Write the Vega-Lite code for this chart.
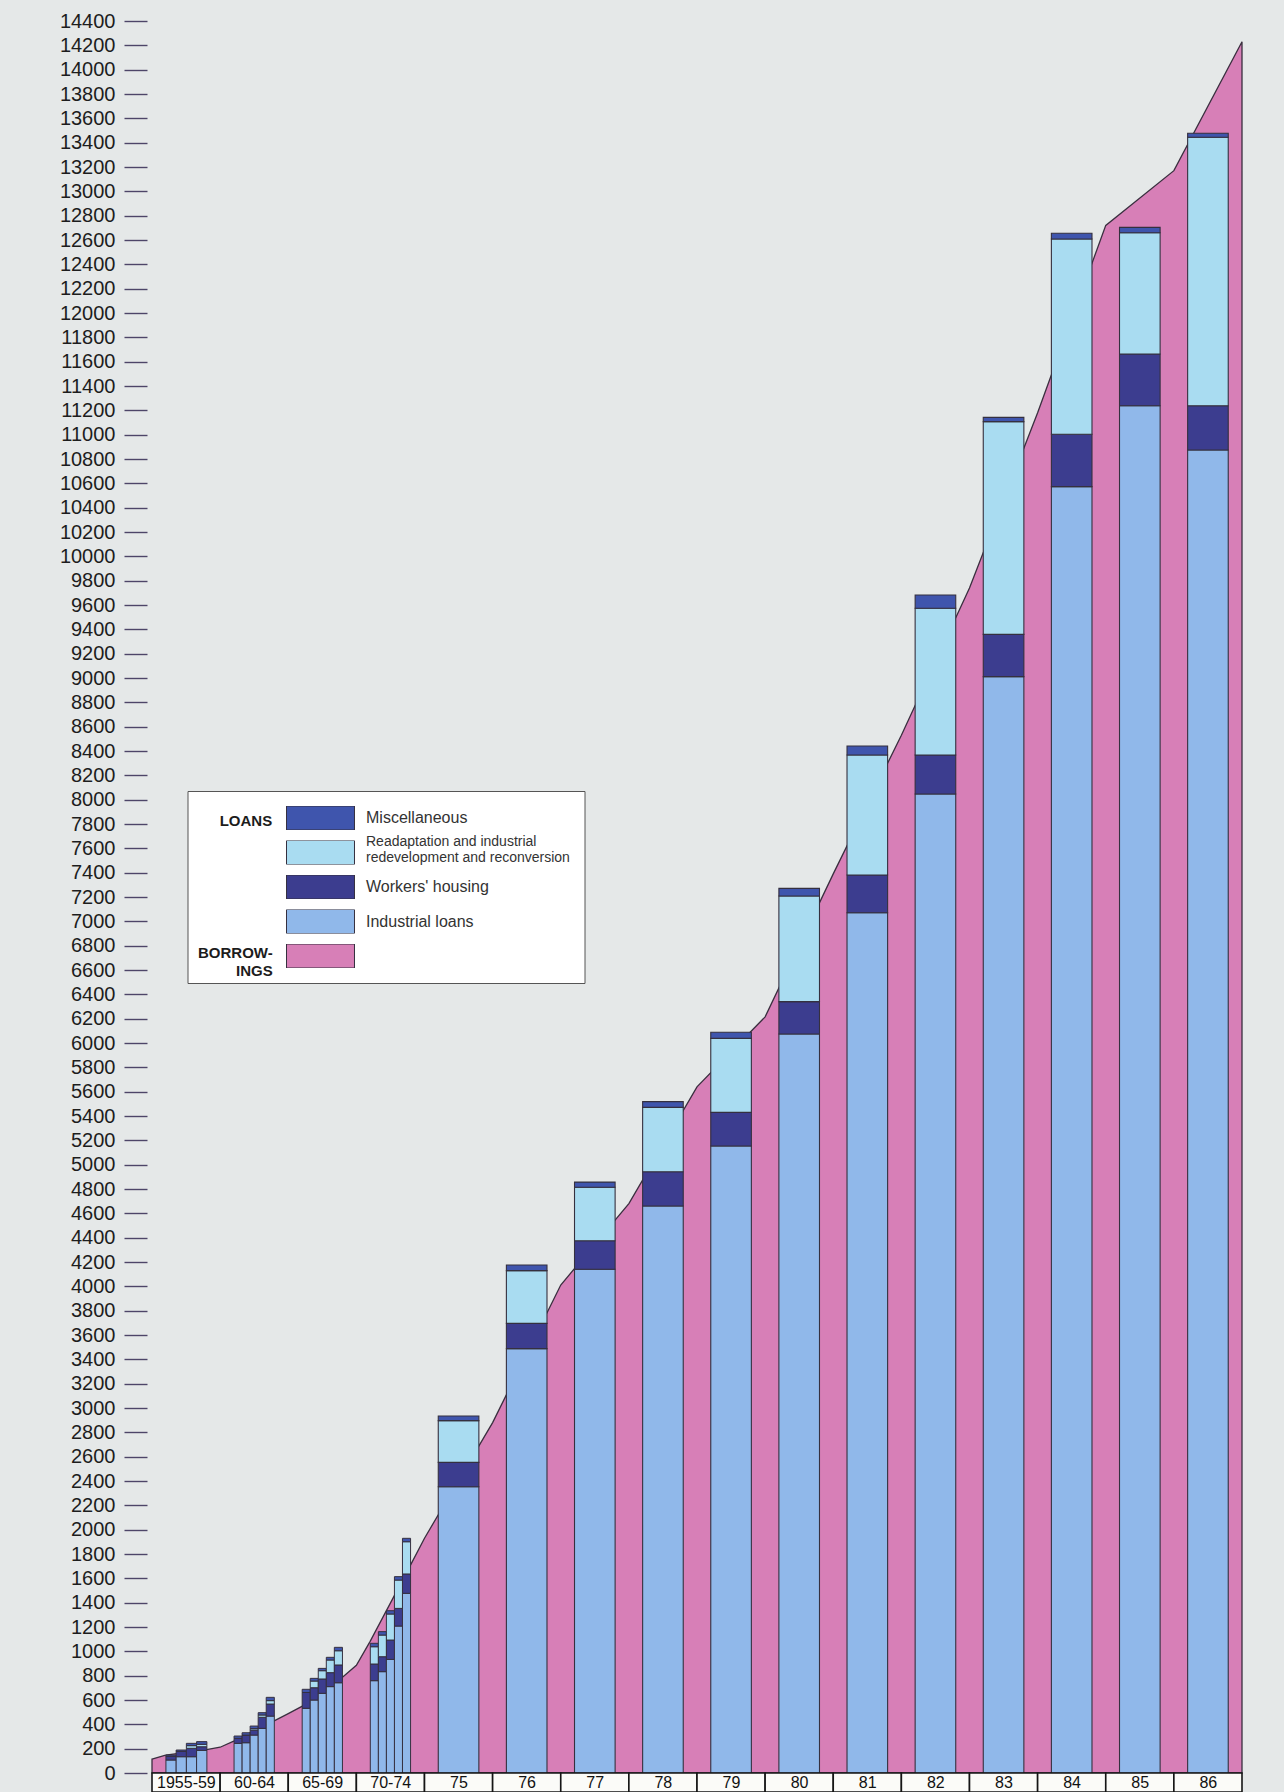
{
  "$schema": "https://vega.github.io/schema/vega-lite/v6.json",
  "width": 1100,
  "height": 1771,
  "autosize": {"type": "none"},
  "padding": {"left": 147, "top": 21, "right": 37, "bottom": 0},
  "background": "#e5e8e8",
  "config": {
    "view": {"stroke": null},
    "font": "Liberation Sans",
    "axisY": {
      "domain": false,
      "grid": false,
      "tickCount": 72,
      "format": "d",
      "tickSize": 23,
      "tickWidth": 1.4,
      "tickColor": "#4d4568",
      "labelPadding": 9,
      "labelFont": "Liberation Sans",
      "labelFontSize": 20,
      "labelColor": "#1d1d1d",
      "title": null
    }
  },
  "datasets": {
    "seriesInfo": [
      {"series": "industrial", "name": "Industrial loans", "rank": 1},
      {"series": "housing", "name": "Workers' housing", "rank": 2},
      {"series": "readapt", "name": "Readaptation and industrial redevelopment and reconversion", "rank": 3},
      {"series": "misc", "name": "Miscellaneous", "rank": 4}
    ],
    "loans": [
      {"year": "1956", "t": 0.28, "industrial": 107, "housing": 31, "readapt": 0, "misc": 10},
      {"year": "1957", "t": 0.43, "industrial": 134, "housing": 45, "readapt": 0, "misc": 10},
      {"year": "1958", "t": 0.58, "industrial": 134, "housing": 69, "readapt": 22, "misc": 19},
      {"year": "1959", "t": 0.73, "industrial": 186, "housing": 30, "readapt": 20, "misc": 22},
      {"year": "1960", "t": 1.264, "industrial": 244, "housing": 41, "readapt": 0, "misc": 19},
      {"year": "1961", "t": 1.382, "industrial": 249, "housing": 63, "readapt": 0, "misc": 19},
      {"year": "1962", "t": 1.5, "industrial": 312, "housing": 41, "readapt": 12, "misc": 21},
      {"year": "1963", "t": 1.618, "industrial": 367, "housing": 91, "readapt": 19, "misc": 19},
      {"year": "1964", "t": 1.736, "industrial": 468, "housing": 99, "readapt": 28, "misc": 27},
      {"year": "1965", "t": 2.264, "industrial": 532, "housing": 130, "readapt": 0, "misc": 26},
      {"year": "1966", "t": 2.382, "industrial": 600, "housing": 101, "readapt": 55, "misc": 22},
      {"year": "1967", "t": 2.5, "industrial": 655, "housing": 118, "readapt": 68, "misc": 19},
      {"year": "1968", "t": 2.618, "industrial": 710, "housing": 115, "readapt": 104, "misc": 22},
      {"year": "1969", "t": 2.736, "industrial": 742, "housing": 146, "readapt": 117, "misc": 28},
      {"year": "1970", "t": 3.264, "industrial": 759, "housing": 137, "readapt": 142, "misc": 28},
      {"year": "1971", "t": 3.382, "industrial": 833, "housing": 123, "readapt": 178, "misc": 28},
      {"year": "1972", "t": 3.5, "industrial": 934, "housing": 159, "readapt": 214, "misc": 27},
      {"year": "1973", "t": 3.618, "industrial": 1208, "housing": 145, "readapt": 233, "misc": 28},
      {"year": "1974", "t": 3.736, "industrial": 1477, "housing": 159, "readapt": 265, "misc": 28},
      {"year": "1975", "t": 4.5, "industrial": 2353, "housing": 200, "readapt": 343, "misc": 38},
      {"year": "1976", "t": 5.5, "industrial": 3488, "housing": 208, "readapt": 433, "misc": 46},
      {"year": "1977", "t": 6.5, "industrial": 4140, "housing": 235, "readapt": 439, "misc": 43},
      {"year": "1978", "t": 7.5, "industrial": 4660, "housing": 282, "readapt": 529, "misc": 47},
      {"year": "1979", "t": 8.5, "industrial": 5153, "housing": 277, "readapt": 608, "misc": 50},
      {"year": "1980", "t": 9.5, "industrial": 6074, "housing": 266, "readapt": 868, "misc": 63},
      {"year": "1981", "t": 10.5, "industrial": 7071, "housing": 310, "readapt": 986, "misc": 74},
      {"year": "1982", "t": 11.5, "industrial": 8047, "housing": 320, "readapt": 1206, "misc": 109},
      {"year": "1983", "t": 12.5, "industrial": 9011, "housing": 348, "readapt": 1748, "misc": 35},
      {"year": "1984", "t": 13.5, "industrial": 10573, "housing": 430, "readapt": 1605, "misc": 47},
      {"year": "1985", "t": 14.5, "industrial": 11238, "housing": 425, "readapt": 997, "misc": 44},
      {"year": "1986", "t": 15.5, "industrial": 10874, "housing": 364, "readapt": 2206, "misc": 33}
    ],
    "borrowings": [
      {"t": 0, "borrowings": 115},
      {"t": 0.2, "borrowings": 148},
      {"t": 0.8, "borrowings": 192},
      {"t": 1.0, "borrowings": 212},
      {"t": 1.2, "borrowings": 262},
      {"t": 1.8, "borrowings": 430},
      {"t": 2.0, "borrowings": 488},
      {"t": 2.2, "borrowings": 548},
      {"t": 2.8, "borrowings": 790},
      {"t": 3.0, "borrowings": 885},
      {"t": 3.2, "borrowings": 1080},
      {"t": 3.8, "borrowings": 1715},
      {"t": 4, "borrowings": 1930},
      {"t": 5, "borrowings": 2880},
      {"t": 6, "borrowings": 4011},
      {"t": 7, "borrowings": 4680},
      {"t": 8, "borrowings": 5640},
      {"t": 9, "borrowings": 6215},
      {"t": 10, "borrowings": 7390},
      {"t": 11, "borrowings": 8530},
      {"t": 12, "borrowings": 9740},
      {"t": 13, "borrowings": 11180},
      {"t": 14, "borrowings": 12720},
      {"t": 15, "borrowings": 13170},
      {"t": 16, "borrowings": 14230}
    ],
    "periods": [
      {"label": "1955-59", "from": 0, "to": 1},
      {"label": "60-64", "from": 1, "to": 2},
      {"label": "65-69", "from": 2, "to": 3},
      {"label": "70-74", "from": 3, "to": 4},
      {"label": "75", "from": 4, "to": 5},
      {"label": "76", "from": 5, "to": 6},
      {"label": "77", "from": 6, "to": 7},
      {"label": "78", "from": 7, "to": 8},
      {"label": "79", "from": 8, "to": 9},
      {"label": "80", "from": 9, "to": 10},
      {"label": "81", "from": 10, "to": 11},
      {"label": "82", "from": 11, "to": 12},
      {"label": "83", "from": 12, "to": 13},
      {"label": "84", "from": 13, "to": 14},
      {"label": "85", "from": 14, "to": 15},
      {"label": "86", "from": 15, "to": 16}
    ]
  },
  "layer": [
    {
      "data": {"name": "borrowings"},
      "mark": {"type": "area", "strokeWidth": 1.3, "strokeJoin": "miter", "opacity": 1},
      "encoding": {
        "x": {"field": "t", "type": "quantitative", "scale": {"domain": [0, 16], "nice": false, "zero": false}, "axis": null},
        "y": {"field": "borrowings", "type": "quantitative", "stack": null, "scale": {"domain": [-156, 14400], "nice": false, "zero": false}, "axis": {"title": null}},
        "fill": {
          "datum": "Borrowings",
          "type": "nominal",
          "scale": {
            "domain": ["Miscellaneous", "Readaptation and industrial redevelopment and reconversion", "Workers' housing", "Industrial loans", "Borrowings"],
            "range": ["#3f55ad", "#a9dcf1", "#3c3d8f", "#90b8ea", "#d77fb7"]
          },
          "legend": {
            "orient": "none",
            "legendX": 40.5,
            "legendY": 770,
            "zindex": 0,
            "title": "LOANS",
            "titleOrient": "right",
            "titleAnchor": "start",
            "titleAlign": "left",
            "titleBaseline": "top",
            "titleFont": "Liberation Sans",
            "titleFontWeight": "bold",
            "titleFontSize": 15,
            "titleOpacity": 0,
            "titlePadding": 28.5,
            "symbolType": "M-2.833,-1H2.833V1H-2.833Z",
            "symbolSize": 576,
            "symbolOffset": 105.5,
            "symbolStrokeColor": "#3a3a3a",
            "symbolStrokeWidth": 1,
            "symbolOpacity": 1,
            "labelFont": "Liberation Sans",
            "labelFontSize": 16,
            "labelColor": "#333333",
            "labelOffset": 33,
            "labelLimit": 320,
            "labelExpr": "datum.label == 'Borrowings' || indexof(datum.label, 'Readaptation') == 0 ? '' : datum.label",
            "clipHeight": 24,
            "rowPadding": 10.5,
            "fillColor": "#ffffff",
            "strokeColor": "#555555",
            "padding": 15
          }
        },
        "stroke": {
          "datum": "redevelopment and reconversion",
          "type": "nominal",
          "scale": {"range": ["#3a2f3f"]},
          "legend": {
            "orient": "none",
            "legendX": 73.2,
            "legendY": 792.8,
            "zindex": 1,
            "title": "LOANS",
            "titleOrient": "left",
            "titleAnchor": "start",
            "titleAlign": "right",
            "titleBaseline": "top",
            "titleFont": "Liberation Sans",
            "titleFontWeight": "bold",
            "titleFontSize": 15,
            "titleColor": "#1c1c1c",
            "titlePadding": -39.2,
            "symbolType": "M-1,-0.353H1V0.353H-1Z",
            "symbolSize": 4624,
            "symbolOpacity": 0,
            "symbolStrokeWidth": 0,
            "labelFont": "Liberation Sans",
            "labelFontSize": 14,
            "labelColor": "#333333",
            "labelOffset": 12,
            "labelLimit": 320,
            "labelExpr": "['Readaptation and industrial', 'redevelopment and reconversion']",
            "clipHeight": 55.8,
            "padding": 0
          }
        }
      }
    },
    {
      "data": {"name": "loans"},
      "transform": [
        {"filter": "datum.t >= 4"},
        {"fold": ["industrial", "housing", "readapt", "misc"], "as": ["series", "amount"]},
        {"lookup": "series", "from": {"data": {"name": "seriesInfo"}, "key": "series", "fields": ["name", "rank"]}}
      ],
      "mark": {"type": "bar", "width": 40.6, "stroke": "#35303f", "strokeWidth": 1.1},
      "encoding": {
        "x": {"field": "t", "type": "quantitative", "axis": null},
        "y": {"field": "amount", "type": "quantitative", "stack": "zero", "axis": {"title": null}},
        "order": {"field": "rank", "type": "quantitative"},
        "fill": {"field": "name", "type": "nominal"}
      }
    },
    {
      "data": {"name": "loans"},
      "transform": [
        {"filter": "datum.t >= 1 && datum.t < 4"},
        {"fold": ["industrial", "housing", "readapt", "misc"], "as": ["series", "amount"]},
        {"lookup": "series", "from": {"data": {"name": "seriesInfo"}, "key": "series", "fields": ["name", "rank"]}}
      ],
      "mark": {"type": "bar", "width": 8.1, "stroke": "#35303f", "strokeWidth": 1},
      "encoding": {
        "x": {"field": "t", "type": "quantitative", "axis": null},
        "y": {"field": "amount", "type": "quantitative", "stack": "zero", "axis": {"title": null}},
        "order": {"field": "rank", "type": "quantitative"},
        "fill": {"field": "name", "type": "nominal"}
      }
    },
    {
      "data": {"name": "loans"},
      "transform": [
        {"filter": "datum.t < 1"},
        {"fold": ["industrial", "housing", "readapt", "misc"], "as": ["series", "amount"]},
        {"lookup": "series", "from": {"data": {"name": "seriesInfo"}, "key": "series", "fields": ["name", "rank"]}}
      ],
      "mark": {"type": "bar", "width": 10.3, "stroke": "#35303f", "strokeWidth": 1},
      "encoding": {
        "x": {"field": "t", "type": "quantitative", "axis": null},
        "y": {"field": "amount", "type": "quantitative", "stack": "zero", "axis": {"title": null}},
        "order": {"field": "rank", "type": "quantitative"},
        "fill": {"field": "name", "type": "nominal"}
      }
    },
    {
      "data": {"name": "periods"},
      "mark": {"type": "rect", "fill": "#fbfbf8", "stroke": "#151515", "strokeWidth": 1.6},
      "encoding": {
        "x": {"field": "from", "type": "quantitative", "axis": null},
        "x2": {"field": "to"},
        "y": {"datum": -156, "type": "quantitative", "axis": {"title": null}},
        "y2": {"datum": 0}
      }
    },
    {
      "data": {"name": "periods"},
      "mark": {"type": "text", "dx": 34.4, "align": "center", "baseline": "middle", "font": "Liberation Sans", "fontSize": 16},
      "encoding": {
        "x": {"field": "from", "type": "quantitative", "axis": null},
        "y": {"datum": -78, "type": "quantitative", "axis": {"title": null}},
        "text": {"field": "label"},
        "color": {
          "datum": "period labels",
          "type": "nominal",
          "scale": {"range": ["#111111"]},
          "legend": {
            "orient": "none",
            "legendX": 50.7,
            "legendY": 924.5,
            "zindex": 1,
            "title": ["BORROW-", "INGS"],
            "titleOrient": "left",
            "titleAnchor": "start",
            "titleAlign": "right",
            "titleBaseline": "top",
            "titleFont": "Liberation Sans",
            "titleFontWeight": "bold",
            "titleFontSize": 15,
            "titleLineHeight": 18.3,
            "titleColor": "#1c1c1c",
            "titlePadding": 0,
            "symbolOpacity": 0,
            "symbolStrokeWidth": 0,
            "labelExpr": "''",
            "padding": 0
          }
        }
      }
    }
  ]
}
